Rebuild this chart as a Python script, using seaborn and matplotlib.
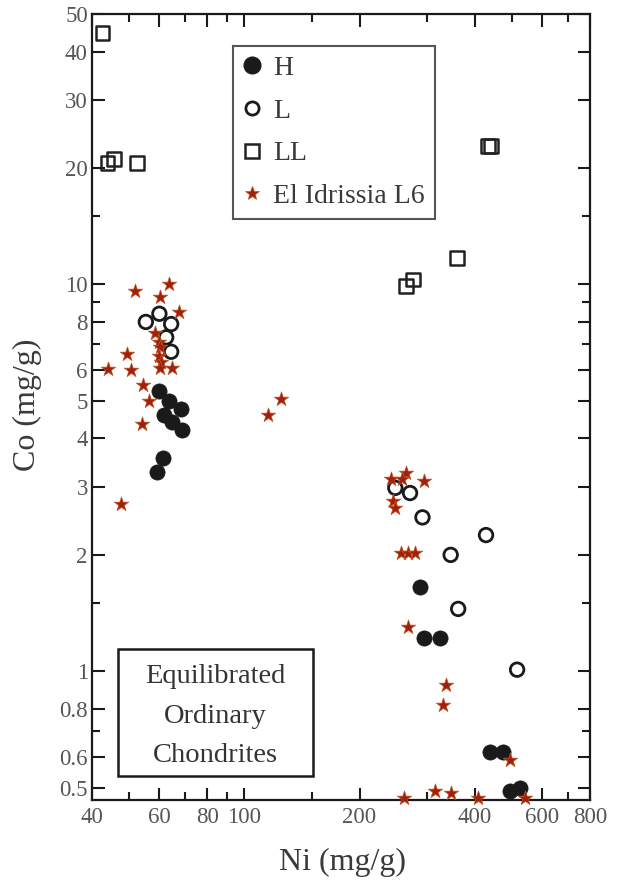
import matplotlib
matplotlib.use("Agg")
import matplotlib.pyplot as plt
import seaborn as sns
import pandas as pd
from matplotlib.lines import Line2D
from matplotlib.patches import Rectangle
from matplotlib.ticker import FixedLocator, FixedFormatter, NullFormatter

# values (Ni and Co in mg/g)
h_ni = [60, 63.6, 68.3, 61.8, 64.8, 68.7, 61.5, 59.0, 288, 295, 325, 439, 474, 494, 525]
h_co = [5.3, 5.0, 4.76, 4.6, 4.4, 4.2, 3.55, 3.28, 1.65, 1.22, 1.22, 0.62, 0.62, 0.49, 0.50]

l_ni = [55.3, 60, 64.4, 62.5, 64.4, 248, 271, 292, 428, 346, 362, 516]
l_co = [8.0, 8.4, 7.9, 7.3, 6.7, 2.98, 2.89, 2.5, 2.25, 2.0, 1.45, 1.01]

ll_ni = [42.6, 43.9, 45.6, 52.4, 432, 440, 359, 264, 276]
ll_co = [44.7, 20.6, 21.1, 20.6, 22.8, 22.8, 11.7, 9.9, 10.3]

ei_ni = [63.6, 51.9, 60.2, 67.7, 58.4, 60, 60.3, 59.7, 60.7, 60.3, 64.8, 49.5, 44,
         50.5, 54.4, 56.2, 54.1, 47.6, 125, 115, 242, 264, 258, 295, 245, 247, 256,
         268, 280, 267, 336, 330, 494, 262, 314, 346, 408, 542]
ei_co = [10, 9.6, 9.3, 8.5, 7.5, 7.1, 6.9, 6.55, 6.3, 6.1, 6.1, 6.6, 6.05, 6.0, 5.5,
         5.0, 4.35, 2.7, 5.06, 4.6, 3.15, 3.25, 3.15, 3.1, 2.75, 2.65, 2.02, 2.02,
         2.02, 1.3, 0.92, 0.82, 0.59, 0.47, 0.49, 0.485, 0.47, 0.47]

x_major = [40, 60, 80, 100, 200, 400, 600, 800]
x_minor = [50, 70, 90, 150, 300, 500, 700]
y_major = [0.5, 0.6, 0.8, 1, 2, 3, 4, 5, 6, 8, 10, 20, 30, 40, 50]
y_minor = [0.7, 1.5, 7, 9, 15]

df = pd.concat([
    pd.DataFrame({"Ni": h_ni, "Co": h_co, "group": "H"}),
    pd.DataFrame({"Ni": l_ni, "Co": l_co, "group": "L"}),
    pd.DataFrame({"Ni": ll_ni, "Co": ll_co, "group": "LL"}),
    pd.DataFrame({"Ni": ei_ni, "Co": ei_co, "group": "El Idrissia"}),
])

sns.set_theme(style="ticks")
plt.rcParams["font.family"] = ["Liberation Serif", "DejaVu Serif"]

fig = plt.figure(figsize=(6.27, 8.88), dpi=100)
ax = fig.add_axes([0.1467, 0.0991, 0.7943, 0.8851])

dark = "#1a1a1a"
star_red = "#a02010"

sns.scatterplot(data=df[df.group == "H"], x="Ni", y="Co", ax=ax, marker="o",
                s=120, color=dark, edgecolor=dark, linewidth=0.5, zorder=3)
sns.scatterplot(data=df[df.group == "L"], x="Ni", y="Co", ax=ax, marker="o",
                s=95, facecolors="none", edgecolor=dark, linewidth=2.0, zorder=3)
sns.scatterplot(data=df[df.group == "LL"], x="Ni", y="Co", ax=ax, marker="s",
                s=100, facecolors="none", edgecolor="#222222", linewidth=1.8, zorder=3)
sns.scatterplot(data=df[df.group == "El Idrissia"], x="Ni", y="Co", ax=ax, marker="*",
                s=120, color=star_red, edgecolor="#c2561f", linewidth=0.5,
                zorder=4, clip_on=False)

ax.set_xscale("log")
ax.set_yscale("log")
ax.set_xlim(40, 800)
ax.set_ylim(0.465, 50)

ax.xaxis.set_major_locator(FixedLocator(x_major))
ax.xaxis.set_major_formatter(FixedFormatter([f"{v:g}" for v in x_major]))
ax.xaxis.set_minor_locator(FixedLocator(x_minor))
ax.xaxis.set_minor_formatter(NullFormatter())
ax.yaxis.set_major_locator(FixedLocator(y_major))
ax.yaxis.set_major_formatter(FixedFormatter([f"{v:g}" for v in y_major]))
ax.yaxis.set_minor_locator(FixedLocator(y_minor))
ax.yaxis.set_minor_formatter(NullFormatter())

ax.tick_params(which="both", direction="in", top=True, right=True,
               width=1.5, color="#1a1a1a", labelsize=16.5, labelcolor="#555555")
ax.tick_params(which="major", length=9)
ax.tick_params(which="minor", length=6)
ax.tick_params(axis="x", which="major", pad=5)
ax.tick_params(axis="y", which="major", pad=3)

for sp in ax.spines.values():
    sp.set_linewidth(1.6)
    sp.set_color("#1a1a1a")

ax.set_xlabel("Ni (mg/g)", fontsize=23, color="#3a3a3a", va="center")
ax.set_ylabel("Co (mg/g)", fontsize=23, color="#3a3a3a", va="center")
ax.xaxis.set_label_coords(0.504, -0.079)
ax.yaxis.set_label_coords(-0.1305, 0.5025)

handles = [
    Line2D([], [], marker="o", linestyle="none", markersize=12,
           markerfacecolor=dark, markeredgecolor=dark),
    Line2D([], [], marker="o", linestyle="none", markersize=9.5,
           markerfacecolor="none", markeredgecolor=dark, markeredgewidth=2),
    Line2D([], [], marker="s", linestyle="none", markersize=9.5,
           markerfacecolor="none", markeredgecolor="#222222", markeredgewidth=1.8),
    Line2D([], [], marker="*", linestyle="none", markersize=10,
           markerfacecolor=star_red, markeredgecolor="#c2561f", markeredgewidth=0.5),
]
labels = ["H", "L", "LL", "El Idrissia L6"]
leg = ax.legend(handles, labels, loc="upper left",
                bbox_to_anchor=(233 / 627, 1 - 46 / 888),
                bbox_transform=fig.transFigure, borderaxespad=0,
                fontsize=20, frameon=True, fancybox=False, framealpha=1,
                borderpad=0.35, labelspacing=0.62, handlelength=0.7,
                handletextpad=0.4)
leg.get_frame().set_edgecolor("#555555")
leg.get_frame().set_linewidth(1.5)
for t in leg.get_texts():
    t.set_color("#3a3a3a")

fig.add_artist(Rectangle((118 / 627, 1 - 776 / 888), 195 / 627, 127 / 888,
                         transform=fig.transFigure, fill=False,
                         edgecolor="#1a1a1a", linewidth=1.8))
fig.text(215 / 627, 1 - 716 / 888, "Equilibrated\nOrdinary\nChondrites",
         ha="center", va="center", multialignment="center",
         fontsize=20.5, linespacing=1.75, color="#333333")

fig.savefig("out.png", dpi=100, facecolor="white")
